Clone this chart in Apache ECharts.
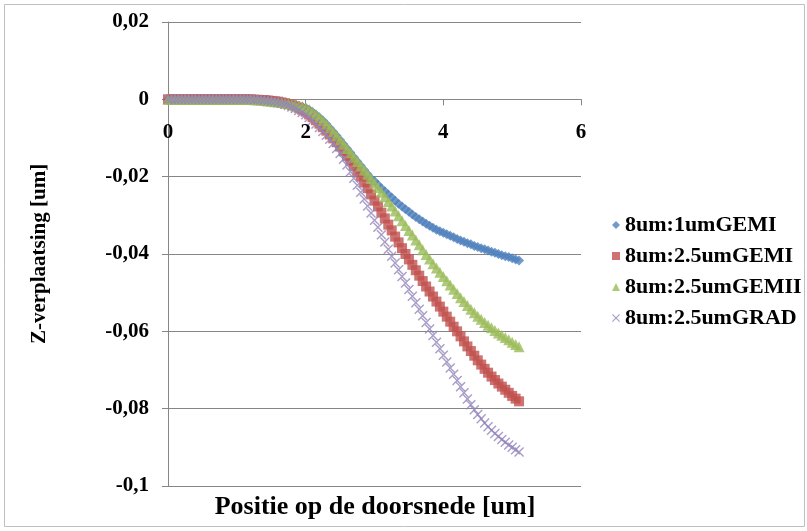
<!DOCTYPE html>
<html>
<head>
<meta charset="utf-8">
<script src="https://cdn.jsdelivr.net/npm/echarts@6/dist/echarts.min.js"></script>
<style>
html,body{margin:0;padding:0;background:#fff;}
#chart{width:807px;height:531px;}
</style>
</head>
<body>
<div id="chart"></div>
<script>
// ---- data ----
const seriesNames = ['8um:1umGEMI', '8um:2.5umGEMI', '8um:2.5umGEMII', '8um:2.5umGRAD'];
const xTitle = 'Positie op de doorsnede [um]';
const yTitle = 'Z-verplaatsing [um]';
const xTicks = [0, 2, 4, 6];
const yTicks = [0.02, 0, -0.02, -0.04, -0.06, -0.08, -0.1];

const xPos = [0,0.05,0.1,0.15,0.2,0.25,0.3,0.35,0.4,0.45,0.5,0.55,0.6,0.65,0.7,0.75,0.8,0.85,0.9,0.95,
1,1.05,1.1,1.15,1.2,1.25,1.3,1.35,1.4,1.45,1.5,1.55,1.6,1.65,1.7,1.75,1.8,1.85,1.9,1.95,
2,2.05,2.1,2.15,2.2,2.25,2.3,2.35,2.4,2.45,2.5,2.55,2.6,2.65,2.7,2.75,2.8,2.85,2.9,2.95,
3,3.05,3.1,3.15,3.2,3.25,3.3,3.35,3.4,3.45,3.5,3.55,3.6,3.65,3.7,3.75,3.8,3.85,3.9,3.95,
4,4.05,4.1,4.15,4.2,4.25,4.3,4.35,4.4,4.45,4.5,4.55,4.6,4.65,4.7,4.75,4.8,4.85,4.9,4.95,
5,5.05,5.1];

const gemi1 = [0,0,0,0,0,0,0,0,0,0,0,0,0,0,0,0,0,0,0,0,0,0,0,0,0,
-0.0001,-0.0002,-0.0002,-0.0003,-0.0004,-0.0005,-0.0006,-0.0007,-0.0008,-0.0010,-0.0011,-0.0013,-0.0015,-0.0017,-0.0019,
-0.0022,-0.0027,-0.0033,-0.0040,-0.0047,-0.0055,-0.0064,-0.0074,-0.0084,-0.0094,-0.0105,-0.0116,-0.0127,-0.0138,-0.0150,-0.0161,-0.0172,-0.0183,-0.0194,-0.0205,
-0.0212,-0.0221,-0.0230,-0.0238,-0.0246,-0.0254,-0.0262,-0.0270,-0.0277,-0.0284,-0.0291,-0.0298,-0.0304,-0.0310,-0.0316,-0.0322,-0.0327,-0.0332,-0.0337,-0.0341,
-0.0345,-0.0349,-0.0353,-0.0357,-0.0361,-0.0365,-0.0368,-0.0372,-0.0375,-0.0379,-0.0382,-0.0385,-0.0388,-0.0391,-0.0394,-0.0397,-0.0400,-0.0403,-0.0406,-0.0408,
-0.0411,-0.0414,-0.0417];

const gemi25 = [0,0,0,0,0,0,0,0,0,0,0,0,0,0,0,0,0,0,0,0,0,0,0,0,0,
-0.0001,-0.0001,-0.0002,-0.0002,-0.0003,-0.0004,-0.0005,-0.0006,-0.0008,-0.0010,-0.0012,-0.0015,-0.0018,-0.0022,-0.0027,
-0.0032,-0.0039,-0.0046,-0.0054,-0.0063,-0.0072,-0.0081,-0.0091,-0.0101,-0.0111,-0.0122,-0.0134,-0.0146,-0.0159,-0.0172,-0.0186,-0.0200,-0.0215,-0.0230,-0.0246,
-0.0262,-0.0277,-0.0293,-0.0308,-0.0324,-0.0339,-0.0355,-0.0370,-0.0385,-0.0400,-0.0414,-0.0428,-0.0442,-0.0456,-0.0470,-0.0484,-0.0497,-0.0510,-0.0523,-0.0536,
-0.0549,-0.0562,-0.0575,-0.0588,-0.0600,-0.0613,-0.0626,-0.0639,-0.0651,-0.0663,-0.0675,-0.0686,-0.0697,-0.0707,-0.0717,-0.0726,-0.0735,-0.0743,-0.0751,-0.0759,
-0.0767,-0.0774,-0.0781];

const gemii25 = [0,0,0,0,0,0,0,0,0,0,0,0,0,0,0,0,0,0,0,0,0,0,0,0,0,
-0.0001,-0.0002,-0.0002,-0.0003,-0.0004,-0.0005,-0.0006,-0.0007,-0.0008,-0.0010,-0.0011,-0.0013,-0.0015,-0.0017,-0.0019,
-0.0022,-0.0027,-0.0033,-0.0040,-0.0047,-0.0055,-0.0064,-0.0074,-0.0084,-0.0094,-0.0105,-0.0116,-0.0127,-0.0138,-0.0150,-0.0161,-0.0172,-0.0183,-0.0194,-0.0205,
-0.0217,-0.0228,-0.0240,-0.0252,-0.0264,-0.0276,-0.0289,-0.0301,-0.0314,-0.0326,-0.0339,-0.0351,-0.0364,-0.0376,-0.0389,-0.0401,-0.0413,-0.0425,-0.0436,-0.0447,
-0.0458,-0.0469,-0.0480,-0.0491,-0.0502,-0.0513,-0.0523,-0.0533,-0.0543,-0.0552,-0.0561,-0.0569,-0.0577,-0.0584,-0.0591,-0.0598,-0.0604,-0.0610,-0.0616,-0.0622,
-0.0628,-0.0634,-0.0640];

const grad25 = [0,0,0,0,0,0,0,0,0,0,0,0,0,0,0,0,0,0,0,0,0,0,0,0,0,
-0.0001,-0.0001,-0.0002,-0.0003,-0.0004,-0.0005,-0.0006,-0.0008,-0.0010,-0.0013,-0.0016,-0.0020,-0.0024,-0.0029,-0.0034,
-0.0040,-0.0047,-0.0055,-0.0064,-0.0073,-0.0083,-0.0093,-0.0103,-0.0114,-0.0127,-0.0140,-0.0155,-0.0170,-0.0187,-0.0204,-0.0222,-0.0240,-0.0258,-0.0276,-0.0294,
-0.0313,-0.0331,-0.0350,-0.0369,-0.0388,-0.0406,-0.0423,-0.0441,-0.0458,-0.0475,-0.0492,-0.0509,-0.0526,-0.0543,-0.0560,-0.0577,-0.0594,-0.0611,-0.0628,-0.0645,
-0.0662,-0.0679,-0.0695,-0.0711,-0.0727,-0.0743,-0.0759,-0.0775,-0.0790,-0.0803,-0.0815,-0.0826,-0.0837,-0.0847,-0.0856,-0.0864,-0.0872,-0.0880,-0.0887,-0.0894,
-0.0900,-0.0906,-0.0912];

// ---- chart ----
const FONT = '"Liberation Serif", "Times New Roman", serif';
const AXIS_GRAY = '#868686';
const GRID = {left: 168, top: 22, width: 413, height: 464};
const Y_MIN = yTicks[yTicks.length - 1], Y_MAX = yTicks[0];
// move the x axis from the bottom of the grid up to y = 0
const xAxisOffset = -GRID.height * (0 - Y_MIN) / (Y_MAX - Y_MIN);
const pair = arr => xPos.map((x, i) => [x, arr[i]]);
const crossPath = 'path://M0,1L1,0L5,4L9,0L10,1L6,5L10,9L9,10L5,6L1,10L0,9L4,5Z';

const chart = echarts.init(document.getElementById('chart'), null, {renderer: 'canvas'});
chart.setOption({
  animation: false,
  backgroundColor: '#ffffff',
  title: {
    text: xTitle,
    left: 370,
    top: 489,
    textAlign: 'center',
    textStyle: {fontFamily: FONT, fontSize: 26, fontWeight: 'bold', color: '#000'}
  },
  graphic: [{
    type: 'rect',
    shape: {x: 4.5, y: 4.5, width: 800, height: 522},
    style: {fill: 'none', stroke: '#bfbfbf', lineWidth: 1},
    silent: true
  }],
  grid: Object.assign({containLabel: false}, GRID),
  legend: {
    orient: 'vertical',
    left: 607,
    top: 209,
    itemWidth: 8,
    itemHeight: 8,
    itemGap: 9,
    data: seriesNames,
    textStyle: {fontFamily: FONT, fontSize: 22, fontWeight: 'bold', color: '#000', lineHeight: 21}
  },
  xAxis: {
    type: 'value',
    position: 'bottom',
    offset: xAxisOffset,
    min: xTicks[0],
    max: xTicks[xTicks.length - 1],
    interval: 2,
    axisLine: {show: true, onZero: false, lineStyle: {color: AXIS_GRAY, width: 1}},
    axisTick: {show: true, length: 6, lineStyle: {color: AXIS_GRAY}},
    splitLine: {show: false},
    axisLabel: {margin: 23, fontFamily: FONT, fontSize: 21, fontWeight: 'bold', color: '#000'}
  },
  yAxis: {
    type: 'value',
    min: Y_MIN,
    max: Y_MAX,
    interval: 0.02,
    name: yTitle,
    nameLocation: 'middle',
    nameRotate: 90,
    nameGap: 118,
    nameTextStyle: {fontFamily: FONT, fontSize: 21, fontWeight: 'bold', color: '#000'},
    axisLine: {show: true, onZero: false, lineStyle: {color: AXIS_GRAY, width: 1}},
    axisTick: {show: true, length: 6, lineStyle: {color: AXIS_GRAY}},
    splitLine: {show: true, lineStyle: {color: AXIS_GRAY, width: 1}},
    axisLabel: {
      margin: 19,
      fontFamily: FONT, fontSize: 21, fontWeight: 'bold', color: '#000',
      formatter: v => String(parseFloat(v.toFixed(3))).replace('.', ',')
    }
  },
  series: [
    {name: seriesNames[0], type: 'scatter', data: pair(gemi1), symbol: 'diamond', symbolSize: 10,
     itemStyle: {color: '#4F81BD'}},
    {name: seriesNames[1], type: 'scatter', data: pair(gemi25), symbol: 'rect', symbolSize: 10,
     itemStyle: {color: '#C0504D'}},
    {name: seriesNames[2], type: 'scatter', data: pair(gemii25), symbol: 'triangle', symbolSize: 11,
     itemStyle: {color: '#9BBB59'}},
    {name: seriesNames[3], type: 'scatter', data: pair(grad25), symbol: crossPath, symbolSize: 10,
     itemStyle: {color: '#9384BC'}}
  ]
});
</script>
</body>
</html>
